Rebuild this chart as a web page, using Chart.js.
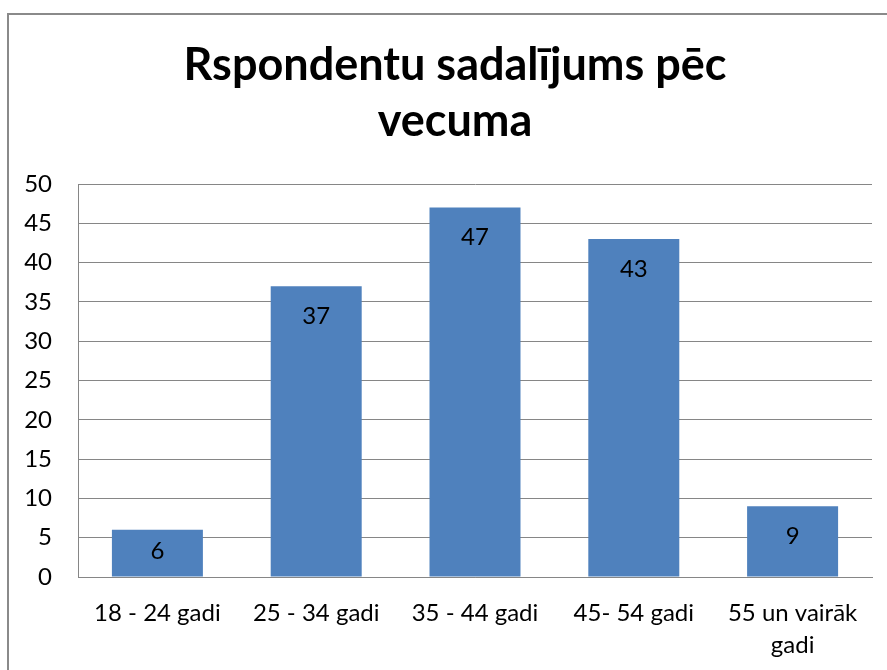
<!DOCTYPE html>
<html>
<head>
<meta charset="utf-8">
<script src="https://cdn.jsdelivr.net/npm/chart.js@4/dist/chart.umd.min.js"></script>
<style>
html,body{margin:0;padding:0;background:#fff;}
#wrap{width:887px;height:670px;position:relative;}
</style>
</head>
<body>
<div id="wrap"><canvas id="c" width="887" height="670"></canvas></div>
<script>
const titleLines = ["Rspondentu sadalījums pēc", "vecuma"];
const categories = ["18 - 24 gadi", "25 - 34 gadi", "35 - 44 gadi", "45- 54 gadi", ["55 un vairāk", "gadi"]];
const values = [6, 37, 47, 43, 9];
const yMin = 0, yMax = 50, yStep = 5;

const FONT = "Lato, 'Open Sans', sans-serif";

const framePlugin = {
  id: 'frame',
  beforeDraw(chart) {
    const ctx = chart.ctx;
    ctx.save();
    ctx.fillStyle = '#fff';
    ctx.fillRect(0, 0, chart.width, chart.height);
    ctx.strokeStyle = '#8a8a8a';
    ctx.lineWidth = 2;
    ctx.strokeRect(8, 14, chart.width + 20, chart.height + 20);
    ctx.restore();
  }
};

const titlePlugin = {
  id: 'customTitle',
  afterDraw(chart) {
    const ctx = chart.ctx;
    ctx.save();
    ctx.font = "bold 45px " + FONT;
    ctx.fillStyle = '#000';
    ctx.textAlign = 'center';
    ctx.textBaseline = 'alphabetic';
    const cx = 455;
    titleLines.forEach((t, i) => ctx.fillText(t, cx, 80 + i * 56));
    ctx.restore();
  }
};

const labelPlugin = {
  id: 'barLabels',
  afterDatasetsDraw(chart) {
    const ctx = chart.ctx;
    const meta = chart.getDatasetMeta(0);
    const yScale = chart.scales.y;
    const base = yScale.getPixelForValue(0);
    ctx.save();
    ctx.font = "24px " + FONT;
    ctx.fillStyle = '#000';
    ctx.textAlign = 'center';
    ctx.textBaseline = 'middle';
    meta.data.forEach((bar, i) => {
      let y = bar.y + 30;
      if (y > base - 25.5) y = base - 25.5;
      ctx.fillText(String(values[i]), bar.x, y);
    });
    ctx.restore();
  }
};

new Chart(document.getElementById('c'), {
  type: 'bar',
  data: {
    labels: categories,
    datasets: [{
      data: values,
      backgroundColor: '#4F81BD',
      borderWidth: 0,
      categoryPercentage: 1,
      barPercentage: 0.573
    }]
  },
  options: {
    responsive: false,
    animation: false,
    devicePixelRatio: 1,
    layout: { padding: { left: 0, right: 15, top: 184, bottom: 0 } },
    plugins: {
      legend: { display: false },
      tooltip: { enabled: false },
      title: { display: false }
    },
    scales: {
      x: {
        grid: { display: false, drawTicks: false },
        border: { display: true, color: '#868686', width: 1 },
        ticks: {
          color: '#000',
          font: { family: FONT, size: 24, lineHeight: 1.33 },
          padding: 20,
          maxRotation: 0,
          autoSkip: false
        },
        afterFit(scale) { scale.height = 93; }
      },
      y: {
        min: yMin,
        max: yMax,
        grid: { color: '#868686', lineWidth: 1, drawTicks: false },
        border: { display: true, color: '#868686', width: 1 },
        ticks: {
          stepSize: yStep,
          color: '#000',
          font: { family: FONT, size: 24 },
          padding: 26
        },
        afterFit(scale) { scale.width = 78; }
      }
    }
  },
  plugins: [framePlugin, labelPlugin, titlePlugin]
});
</script>
</body>
</html>
